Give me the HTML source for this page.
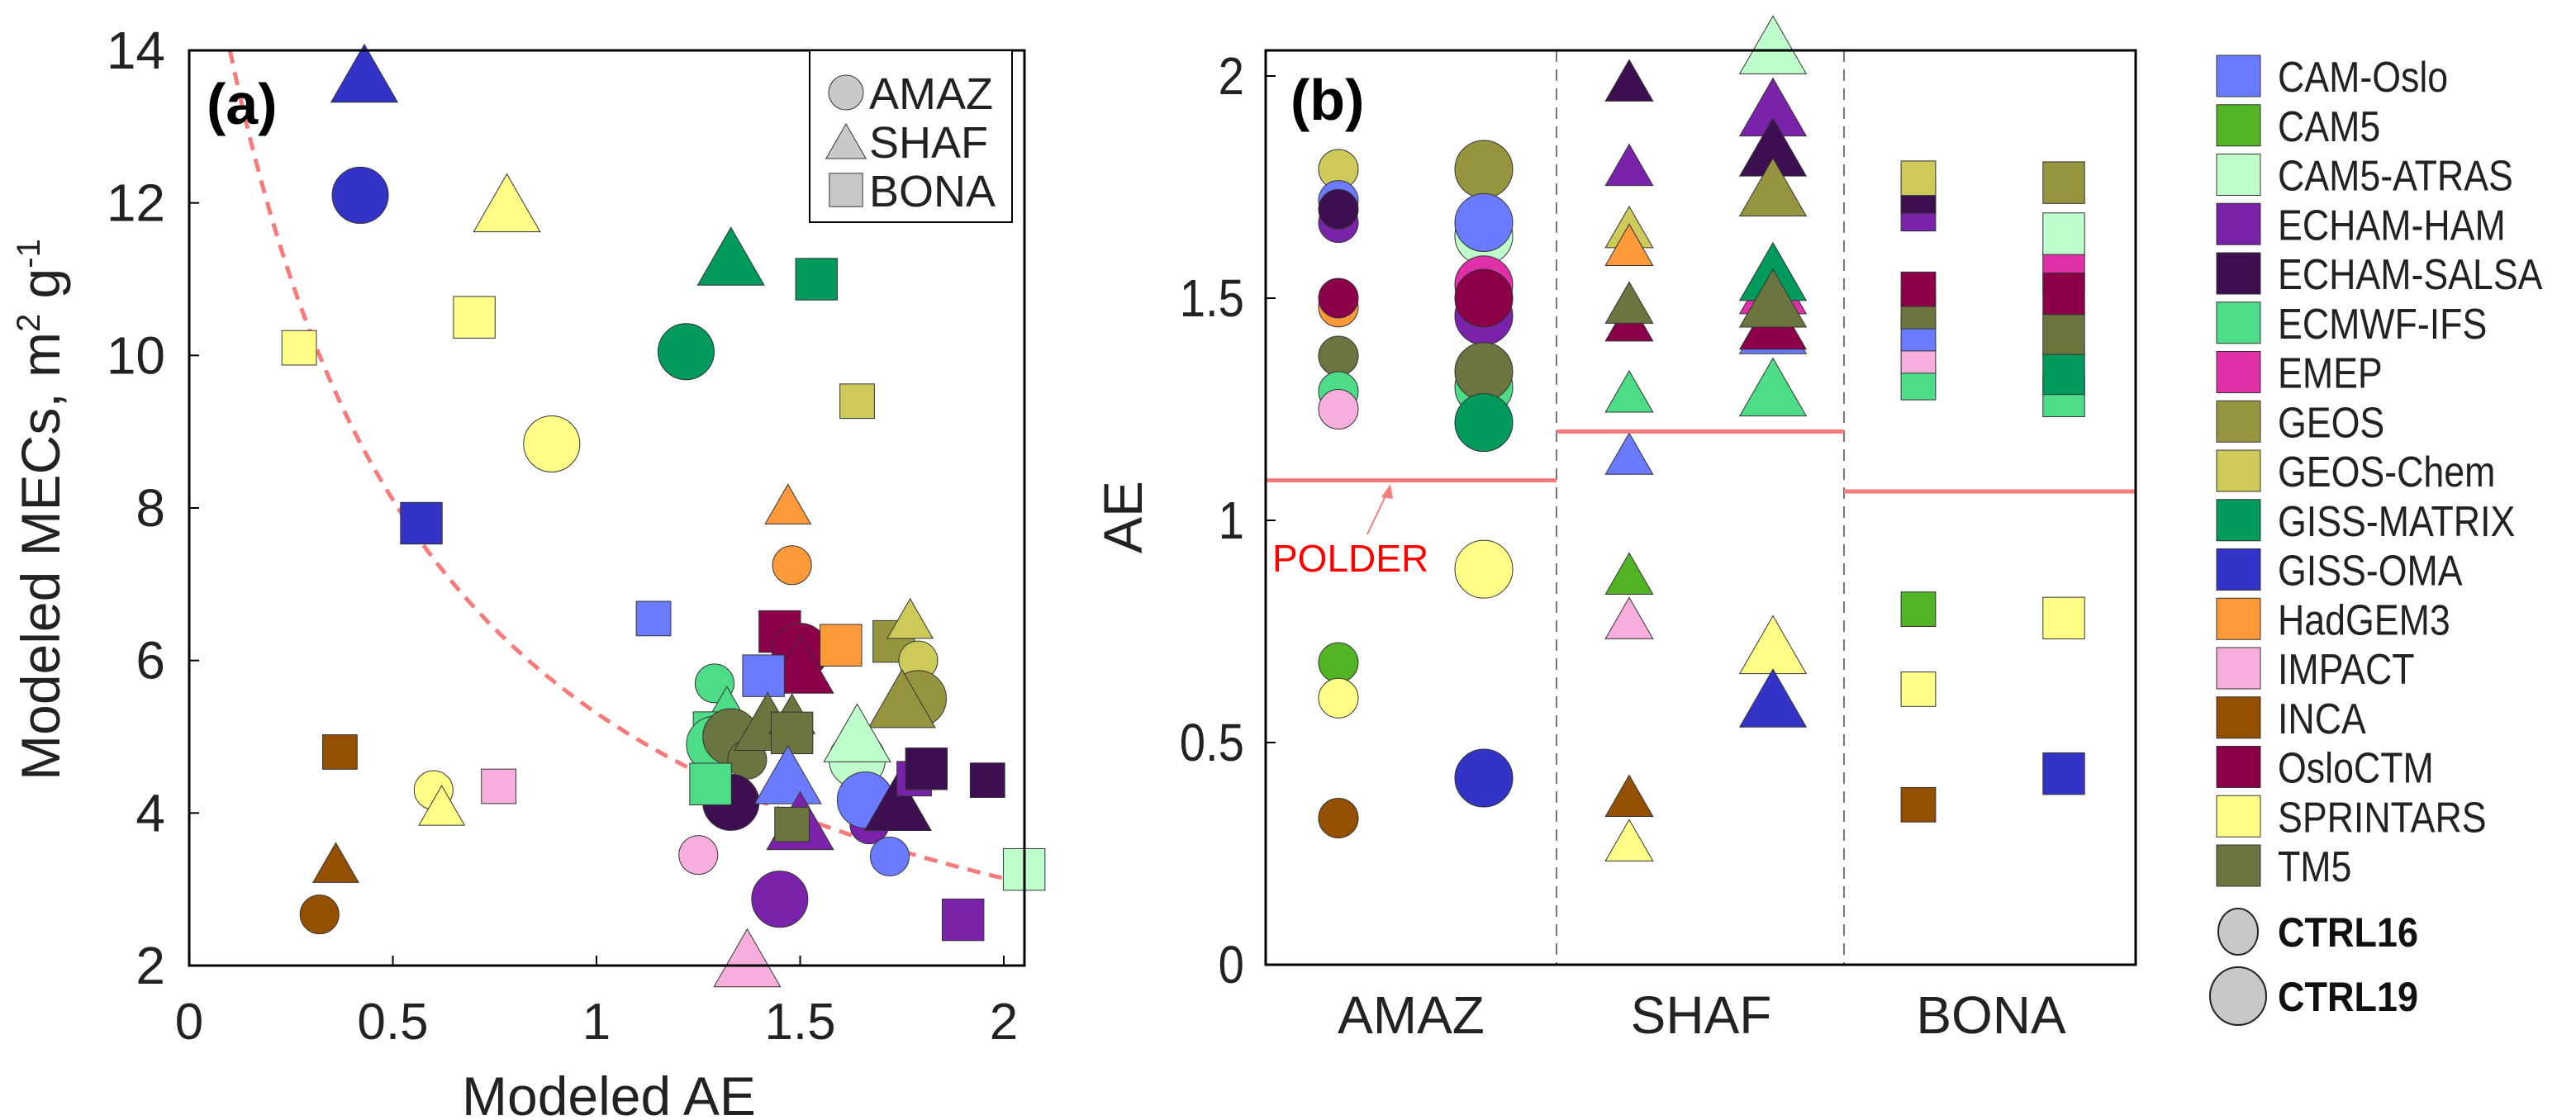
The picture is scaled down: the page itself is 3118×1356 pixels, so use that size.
<!DOCTYPE html>
<html><head><meta charset="utf-8"><style>
html,body{margin:0;padding:0;background:#fff;}
svg{display:block;font-family:"Liberation Sans",sans-serif;}
</style></head><body>
<svg id="chart" width="3118" height="1356" viewBox="0 0 3118 1356" xmlns="http://www.w3.org/2000/svg">
<g id="pa"></g>
<g id="pb"></g>
<g id="lg"></g>
</svg>
<script>
const modelNames = ["CAM-Oslo","CAM5","CAM5-ATRAS","ECHAM-HAM","ECHAM-SALSA","ECMWF-IFS","EMEP","GEOS","GEOS-Chem","GISS-MATRIX","GISS-OMA","HadGEM3","IMPACT","INCA","OsloCTM","SPRINTARS","TM5"];
const modelColors = ["#6b7bff","#52b424","#bfffcc","#7b22aa","#3e0f50","#4ddd88","#e030a8","#979440","#cdca5a","#009a5c","#3333c8","#ff9a3a","#f8aedc","#954f00","#8c004a","#ffff88","#6b7540"];
// Panel (a): model, region, run(16/19), AE, MEC
const aModel = ["GISS-OMA","GISS-OMA","SPRINTARS","SPRINTARS","SPRINTARS","GISS-MATRIX","GISS-MATRIX","GISS-MATRIX","GEOS-Chem","SPRINTARS","GISS-OMA","HadGEM3","HadGEM3","CAM-Oslo","OsloCTM","OsloCTM","OsloCTM","HadGEM3","GEOS","GEOS-Chem","GEOS-Chem","GEOS","GEOS","CAM-Oslo","ECMWF-IFS","ECMWF-IFS","ECMWF-IFS","ECMWF-IFS","TM5","TM5","TM5","TM5","TM5","ECHAM-SALSA","ECMWF-IFS","CAM5-ATRAS","CAM5-ATRAS","CAM-Oslo","ECHAM-HAM","TM5","ECHAM-HAM","CAM-Oslo","ECHAM-SALSA","ECHAM-HAM","ECHAM-SALSA","ECHAM-SALSA","CAM-Oslo","CAM5-ATRAS","ECHAM-HAM","ECHAM-HAM","IMPACT","IMPACT","IMPACT","SPRINTARS","SPRINTARS","INCA","INCA","INCA"];
const aRegion = ["SHAF","AMAZ","SHAF","BONA","BONA","SHAF","BONA","AMAZ","BONA","AMAZ","BONA","SHAF","AMAZ","BONA","BONA","AMAZ","SHAF","BONA","BONA","SHAF","AMAZ","AMAZ","SHAF","BONA","AMAZ","SHAF","BONA","AMAZ","AMAZ","AMAZ","SHAF","SHAF","BONA","AMAZ","BONA","AMAZ","SHAF","SHAF","SHAF","BONA","AMAZ","AMAZ","SHAF","BONA","BONA","BONA","AMAZ","BONA","BONA","AMAZ","AMAZ","SHAF","BONA","AMAZ","SHAF","BONA","SHAF","AMAZ"];
const aRun = [19,19,19,19,16,19,19,19,16,19,19,16,16,16,19,19,19,19,19,16,16,19,19,19,16,16,16,19,19,16,19,16,19,19,19,19,19,19,19,16,16,19,19,16,19,16,16,19,19,19,16,19,16,16,16,16,16,16];
const aAE = [0.43,0.42,0.78,0.70,0.27,1.33,1.54,1.22,1.64,0.89,0.57,1.47,1.48,1.14,1.45,1.50,1.50,1.60,1.73,1.77,1.79,1.79,1.75,1.41,1.29,1.32,1.28,1.29,1.33,1.37,1.42,1.48,1.48,1.33,1.28,1.64,1.64,1.47,1.50,1.48,1.67,1.66,1.74,1.78,1.81,1.96,1.72,2.05,1.90,1.45,1.25,1.37,0.76,0.60,0.62,0.37,0.36,0.32];
const aMEC = [13.7,12.1,12.0,10.5,10.1,11.3,11.0,10.05,9.4,8.84,7.8,8.05,7.25,6.55,6.38,6.12,5.95,6.2,6.25,6.55,6.0,5.5,5.5,5.8,5.7,5.4,5.1,4.9,5.0,4.7,5.2,5.3,5.05,4.14,4.38,4.7,5.05,4.5,3.9,3.85,3.85,4.17,4.15,4.45,4.58,4.43,3.43,3.26,2.6,2.87,3.45,2.1,4.35,4.3,4.1,4.8,3.35,2.67];
const aXTicks = [0,0.5,1,1.5,2];
const aYTicks = [2,4,6,8,10,12,14];
const fitA = [7.7], fitC = [0.45];
// Panel (b)
const bModel = ["GEOS-Chem","CAM-Oslo","ECHAM-HAM","ECHAM-SALSA","HadGEM3","OsloCTM","TM5","ECMWF-IFS","IMPACT","CAM5","SPRINTARS","INCA",
 "GEOS","CAM5-ATRAS","CAM-Oslo","ECMWF-IFS","EMEP","ECHAM-HAM","OsloCTM","TM5","GISS-MATRIX","SPRINTARS","GISS-OMA",
 "ECHAM-SALSA","ECHAM-HAM","GEOS-Chem","HadGEM3","OsloCTM","TM5","ECMWF-IFS","CAM-Oslo","CAM5","IMPACT","INCA","SPRINTARS",
 "CAM5-ATRAS","ECHAM-HAM","ECHAM-SALSA","GEOS","CAM-Oslo","OsloCTM","EMEP","GISS-MATRIX","TM5","ECMWF-IFS","SPRINTARS","GISS-OMA",
 "ECMWF-IFS","IMPACT","CAM-Oslo","TM5","OsloCTM","ECHAM-HAM","ECHAM-SALSA","GEOS-Chem","CAM5","SPRINTARS","INCA",
 "ECMWF-IFS","GISS-MATRIX","TM5","EMEP","OsloCTM","CAM5-ATRAS","GEOS","SPRINTARS","GISS-OMA"];
const bRegion = ["AMAZ","AMAZ","AMAZ","AMAZ","AMAZ","AMAZ","AMAZ","AMAZ","AMAZ","AMAZ","AMAZ","AMAZ",
 "AMAZ","AMAZ","AMAZ","AMAZ","AMAZ","AMAZ","AMAZ","AMAZ","AMAZ","AMAZ","AMAZ",
 "SHAF","SHAF","SHAF","SHAF","SHAF","SHAF","SHAF","SHAF","SHAF","SHAF","SHAF","SHAF",
 "SHAF","SHAF","SHAF","SHAF","SHAF","SHAF","SHAF","SHAF","SHAF","SHAF","SHAF","SHAF",
 "BONA","BONA","BONA","BONA","BONA","BONA","BONA","BONA","BONA","BONA","BONA",
 "BONA","BONA","BONA","BONA","BONA","BONA","BONA","BONA","BONA"];
const bRun = [16,16,16,16,16,16,16,16,16,16,16,16, 19,19,19,19,19,19,19,19,19,19,19,
 16,16,16,16,16,16,16,16,16,16,16,16, 19,19,19,19,19,19,19,19,19,19,19,19,
 16,16,16,16,16,16,16,16,16,16,16, 19,19,19,19,19,19,19,19,19];
const bAE = [1.79,1.72,1.67,1.70,1.48,1.50,1.37,1.29,1.25,0.68,0.60,0.33,
 1.79,1.64,1.67,1.30,1.53,1.46,1.50,1.335,1.22,0.89,0.42,
 1.99,1.80,1.66,1.62,1.45,1.49,1.29,1.15,0.88,0.78,0.38,0.28,
 2.07,1.93,1.84,1.75,1.44,1.45,1.53,1.56,1.50,1.30,0.72,0.60,
 1.31,1.37,1.42,1.47,1.52,1.69,1.73,1.77,0.80,0.62,0.36,
 1.28,1.33,1.42,1.556,1.51,1.645,1.76,0.78,0.43];
const bCategories = ["AMAZ","SHAF","BONA"];
const polderAE = [1.09,1.20,1.065];
const bYTicks = [0,0.5,1,1.5,2];

const NS="http://www.w3.org/2000/svg";
function mk(parent,tag,attrs,txt){const e=document.createElementNS(NS,tag);for(const k in attrs)e.setAttribute(k,attrs[k]);if(txt!==undefined)e.textContent=txt;parent.appendChild(e);return e;}
function col(m){return modelColors[modelNames.indexOf(m)];}
function marker(g,shape,cx,cy,size,fill){
  let e;
  if(shape==="AMAZ"){e=mk(g,"ellipse",{cx:cx,cy:cy,rx:size/2,ry:size/2,fill:fill,stroke:"#333","stroke-width":1});}
  else if(shape==="SHAF"){const w=size*1.15,h=size;e=mk(g,"polygon",{points:`${cx},${cy-h/2} ${cx-w/2},${cy+h/2} ${cx+w/2},${cy+h/2}`,fill:fill,stroke:"#333","stroke-width":1});}
  else {const s=size*0.72;e=mk(g,"rect",{x:cx-s/2,y:cy-s/2,width:s,height:s,fill:fill,stroke:"#333","stroke-width":1});}
  return e;
}
// ---- Panel a ----
const pa=document.getElementById("pa");
const AX0=229,AX1=1240,AY0=61,AY1=1169;
const xA=v=>229+v*493, yA=v=>1169-(v-2)*(1108/12);
mk(pa,"rect",{x:AX0,y:AY0,width:AX1-AX0,height:AY1-AY0,fill:"#fff",stroke:"none"});
let d="";for(let i=0;i<=80;i++){const x=0.1+i*(2.05-0.1)/80;const y=fitA[0]/(x+fitC[0]);d+=(i?"L":"M")+xA(x).toFixed(1)+","+yA(y).toFixed(1);}
const fc=mk(pa,"path",{d:d,fill:"none",stroke:"#f77b7b","stroke-width":5,"stroke-dasharray":"16,11"});


for(let i=0;i<aAE.length;i++){
  const big=aRun[i]===19;
  const sz=aRegion[i]==="AMAZ"?(big?68:47):aRegion[i]==="SHAF"?(big?70:48):(big?70:58);
  const m=marker(pa,aRegion[i],xA(aAE[i]),yA(aMEC[i]),sz,col(aModel[i]));
  
  
}
mk(pa,"rect",{x:AX0,y:AY0,width:AX1-AX0,height:AY1-AY0,fill:"none",stroke:"#000","stroke-width":3});
for(const t of aXTicks){mk(pa,"line",{x1:xA(t),x2:xA(t),y1:AY1,y2:AY1-12,stroke:"#000","stroke-width":2});
  const l=mk(pa,"text",{x:xA(t),y:1258,"font-size":62,"text-anchor":"middle",fill:"#222"},String(t));
  }
for(const t of aYTicks){mk(pa,"line",{x1:AX0,x2:AX0+12,y1:yA(t),y2:yA(t),stroke:"#000","stroke-width":2});
  const l=mk(pa,"text",{x:200,y:yA(t)+22,"font-size":64,"text-anchor":"end",fill:"#222"},String(t));
  }
mk(pa,"text",{x:737,y:1350,"font-size":66,"text-anchor":"middle",fill:"#222",},"Modeled AE");
const yt=mk(pa,"text",{transform:"translate(72,617) rotate(-90)","font-size":66,"text-anchor":"middle",fill:"#222",});
yt.innerHTML='Modeled MECs, m<tspan dy="-24" font-size="40">2</tspan><tspan dy="24"> g</tspan><tspan dy="-24" font-size="40">-1</tspan>';
mk(pa,"text",{x:250,y:150,"font-size":70,"font-weight":"bold",fill:"#000",},"(a)");
mk(pa,"rect",{x:980,y:61,width:245,height:208,fill:"#fff",stroke:"#000","stroke-width":2,});
const shapes=["AMAZ","SHAF","BONA"];const ly=[112,171,230];
shapes.forEach((s,i)=>{marker(pa,s,1024,ly[i],s==="BONA"?56:42,"#c8c8c8");
  mk(pa,"text",{x:1052,y:ly[i]+20,"font-size":54,fill:"#222",},s);});
// ---- Panel b ----
const pb=document.getElementById("pb");
const BX0=1532,BX1=2585,BY0=61,BY1=1168;
const yB=v=>1168-v*538;
const divs=[1884,2232];
const colX={AMAZ:[1620,1796],SHAF:[1972,2146],BONA:[2322,2498]};
const catX=[1708,2059,2410];
mk(pb,"rect",{x:BX0,y:BY0,width:BX1-BX0,height:BY1-BY0,fill:"#fff"});
divs.forEach(x=>mk(pb,"line",{x1:x,x2:x,y1:BY0,y2:BY1,stroke:"#777","stroke-width":2,"stroke-dasharray":"14,9"}));
const segs=[[BX0,divs[0]],[divs[0],divs[1]],[divs[1],BX1]];
for(let i=0;i<bAE.length;i++){
  const big=bRun[i]===19,r=bRegion[i];
  const x=colX[r][big?1:0];
  const sz=r==="AMAZ"?(big?70:48):r==="SHAF"?(big?70:50):(big?70:58);
  const m=marker(pb,r,x,yB(bAE[i]),sz,col(bModel[i]));
  
  
}
polderAE.forEach((v,i)=>{const l=mk(pb,"line",{x1:segs[i][0],x2:segs[i][1],y1:yB(v),y2:yB(v),stroke:"#f47c7c","stroke-width":5});
  });
mk(pb,"rect",{x:BX0,y:BY0,width:BX1-BX0,height:BY1-BY0,fill:"none",stroke:"#000","stroke-width":3});
for(const t of bYTicks){mk(pb,"line",{x1:BX0,x2:BX0+12,y1:yB(t),y2:yB(t),stroke:"#000","stroke-width":2});
  const l=mk(pb,"text",{x:1506,y:yB(t)+22,"font-size":64,"text-anchor":"end",fill:"#222",transform:`translate(${1506*0.12},0) scale(0.88,1)`},String(t));
  }
bCategories.forEach((c,i)=>{const l=mk(pb,"text",{x:catX[i],y:1251,"font-size":64,"text-anchor":"middle",fill:"#222"},c);
  });
mk(pb,"text",{transform:"translate(1382,626) rotate(-90)","font-size":66,"text-anchor":"middle",fill:"#222",},"AE");
mk(pb,"text",{x:1562,y:145,"font-size":70,"font-weight":"bold",fill:"#000",},"(b)");
mk(pb,"text",{x:1540,y:692,"font-size":46,fill:"#ff0000",},"POLDER");
mk(pb,"line",{x1:1655,y1:647,x2:1681,y2:592,stroke:"#f47c7c","stroke-width":2});
mk(pb,"polygon",{points:"1683,586 1672,602 1686,604",fill:"#f47c7c"});
// ---- Model legend ----
const lg=document.getElementById("lg");
modelNames.forEach((m,i)=>{const y=92+i*59.75;
  const r=mk(lg,"rect",{x:2683,y:y-25,width:53,height:50,fill:modelColors[i],stroke:"#333","stroke-width":1});
  
  const t=mk(lg,"text",{x:0,y:0,"font-size":52,fill:"#222",transform:`translate(2757,${y+19}) scale(0.86,1)`},m);
  });
mk(lg,"ellipse",{cx:2709,cy:1128,rx:24,ry:28,fill:"#c8c8c8",stroke:"#222","stroke-width":2,});
mk(lg,"text",{x:0,y:0,"font-size":50,"font-weight":"bold",fill:"#111",transform:"translate(2757,1146) scale(0.9,1)",},"CTRL16");
mk(lg,"ellipse",{cx:2709,cy:1206,rx:34,ry:35,fill:"#c8c8c8",stroke:"#222","stroke-width":2,});
mk(lg,"text",{x:0,y:0,"font-size":50,"font-weight":"bold",fill:"#111",transform:"translate(2757,1224) scale(0.9,1)",},"CTRL19");
</script>
</body></html>
